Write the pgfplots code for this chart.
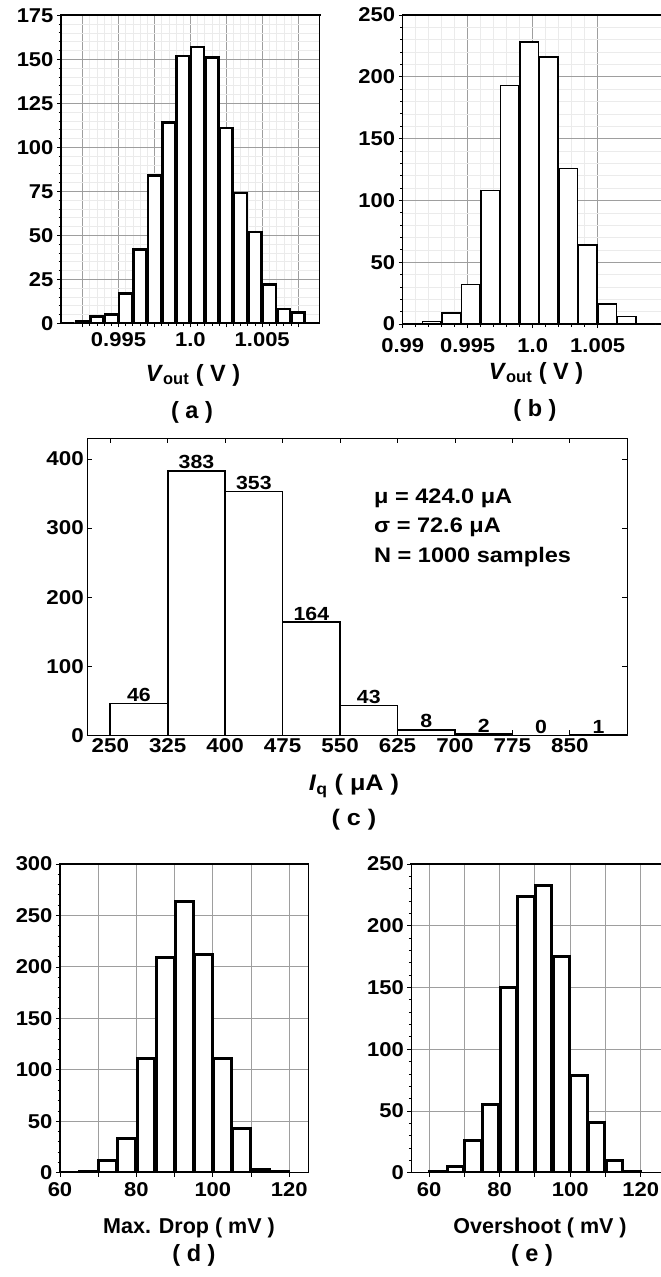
\documentclass[border=0pt]{standalone}
\usepackage{pgfplots}
\pgfplotsset{compat=1.18}
\usepackage{fontspec}
\setmainfont{Liberation Sans}
\newfontfamily\tkfont{Liberation Sans}[FakeStretch=1.1]
\newfontfamily\cfont{Liberation Sans}[FakeStretch=1.12]
\pgfplotsset{
  hist/.style={
    scale only axis, anchor=south west,
    axis line style={line width=1.1pt},
    tick style={black, line width=0.8pt},
    tick align=outside, tick pos=left,
    major tick length=4pt, minor tick length=2.5pt,
    tick label style={font=\tkfont\bfseries\fontsize{20}{20}\selectfont},
    xticklabel style={yshift=-2pt},
    /pgf/number format/assume math mode=true,
    major grid style={black!38, line width=0.9pt},
    minor grid style={black!8, line width=0.5pt},
    ymin=0, ybar,
    after end axis/.code={\draw[line width=2.2pt, line cap=rect] (rel axis cs:0,1) -- (rel axis cs:1,1);},
  }
}
\begin{document}
\begin{tikzpicture}
\path[use as bounding box] (0,0) rectangle (661pt,-1277pt);
% (a)
\begin{axis}[hist, at={(61pt,-323.3pt)}, width=258.7pt, height=308pt,
  xmin=0.991, xmax=1.009, ymax=175,
  xtick={0.9925,0.995,0.9975,1,1.0025,1.005,1.0075},
  xticklabels={,0.995,,1.0,,1.005,},
  ytick={0,25,...,175}, minor x tick num=4, minor y tick num=4,
  grid=both, bar width=12.9pt]
\addplot[draw=black, fill=white, line width=2.5pt] coordinates {
(0.9915,0) (0.9925,1) (0.9935,4) (0.9945,5) (0.9955,17) (0.9965,42)
(0.9975,84) (0.9985,114) (0.9995,152) (1.0005,157) (1.0015,151) (1.0025,111)
(1.0035,74) (1.0045,52) (1.0055,22) (1.0065,8) (1.0075,6) (1.0085,0)};
\end{axis}
% (b)
\begin{axis}[hist, at={(402.7pt,-324pt)}, width=260pt, height=309pt,
  xmin=0.99, xmax=1.01, ymax=250,
  xtick={0.99,0.995,1,1.005}, xticklabels={0.99,0.995,1.0,1.005},
  xticklabel style={yshift=-4.5pt},
  ytick={0,50,...,250}, minor x tick num=4, minor y tick num=4,
  grid=both, bar width=18.5pt]
\addplot[draw=black, fill=white, line width=1.5pt] coordinates {
(0.99075,0) (0.99225,2) (0.99375,9) (0.99525,32) (0.99675,108) (0.99825,193)
(0.99975,228) (1.00125,216) (1.00275,126) (1.00425,64) (1.00575,16) (1.00725,6) (1.00875,0)};
\end{axis}
% (c)
\begin{axis}[scale only axis, anchor=south west, at={(87.3pt,-735.3pt)}, width=540pt, height=297pt,
  xmin=220, xmax=925, ymin=0, ymax=430, ybar, bar width=75,
  axis line style={line width=1.3pt}, tick style={black, line width=0.8pt},
  tick align=inside, major tick length=5pt,
  xtick={250,325,...,850}, ytick={0,100,...,400}, minor tick num=0,
  tick label style={font=\cfont\bfseries\fontsize{20}{20}\selectfont},
  /pgf/number format/assume math mode=true,
  nodes near coords,
  nodes near coords style={font=\cfont\bfseries\fontsize{19}{19}\selectfont, inner sep=0.8pt, black}]
\addplot[draw=black, fill=white, line width=1.6pt] coordinates {
(287.5,46) (362.5,383) (437.5,353) (512.5,164) (587.5,43) (662.5,8) (737.5,2) (812.5,0) (887.5,1)};
\end{axis}
% (d)
\begin{axis}[hist, at={(60pt,-1172.7pt)}, width=248.4pt, height=308.7pt,
  xmin=60, xmax=125, ymax=300,
  xtick={60,70,...,120}, xticklabels={60,,80,,100,,120},
  ytick={0,50,...,300}, minor y tick num=4, grid=major, bar width=17.9pt]
\addplot[draw=black, fill=white, line width=3pt] coordinates {
(62.5,0) (67.5,1) (72.5,12) (77.5,33) (82.5,111) (87.5,209) (92.5,264)
(97.5,212) (102.5,111) (107.5,43) (112.5,3) (117.5,1)};
\end{axis}
% (e)
\begin{axis}[hist, at={(411.4pt,-1172.7pt)}, width=250.5pt, height=308.7pt,
  xmin=55, xmax=126, ymax=250,
  xtick={60,70,...,120}, xticklabels={60,,80,,100,,120},
  ytick={0,50,...,250}, minor y tick num=4, grid=major, bar width=16.4pt]
\addplot[draw=black, fill=white, line width=3pt] coordinates {
(62.5,1) (67.5,5) (72.5,26) (77.5,55) (82.5,150) (87.5,224) (92.5,233)
(97.5,175) (102.5,79) (107.5,41) (112.5,10) (117.5,1)};
\end{axis}
% labels
\node[font=\bfseries\fontsize{23.5}{24}\selectfont] at (193pt,-375pt) {\textit{V}\textsubscript{out} ( V )};
\node[font=\bfseries\fontsize{23.5}{24}\selectfont] at (536pt,-373pt) {\textit{V}\textsubscript{out} ( V )};
\node[font=\bfseries\fontsize{23.5}{24}\selectfont] at (192pt,-412pt) {( a )};
\node[font=\bfseries\fontsize{23.5}{24}\selectfont] at (535pt,-410pt) {( b )};
\node[font=\cfont\bfseries\fontsize{22.5}{24}\selectfont] at (354pt,-786pt) {\textit{I}\textsubscript{q} ( μA )};
\node[font=\cfont\bfseries\fontsize{22.5}{24}\selectfont] at (354pt,-820pt) {( c )};
\node[font=\cfont\bfseries\fontsize{21}{24}\selectfont, anchor=west, inner sep=0pt] at (374pt,-498pt) {μ = 424.0 μA};
\node[font=\cfont\bfseries\fontsize{21}{24}\selectfont, anchor=west, inner sep=0pt] at (374pt,-527pt) {σ = 72.6 μA};
\node[font=\cfont\bfseries\fontsize{21}{24}\selectfont, anchor=west, inner sep=0pt] at (374pt,-557pt) {N = 1000 samples};
\node[font=\bfseries\fontsize{21.5}{24}\selectfont] at (189pt,-1228pt) {Max. Drop ( mV )};
\node[font=\bfseries\fontsize{21.5}{24}\selectfont] at (540pt,-1228pt) {Overshoot ( mV )};
\node[font=\bfseries\fontsize{23.5}{24}\selectfont] at (194pt,-1255pt) {( d )};
\node[font=\bfseries\fontsize{23.5}{24}\selectfont] at (532pt,-1255pt) {( e )};
\end{tikzpicture}
\end{document}
